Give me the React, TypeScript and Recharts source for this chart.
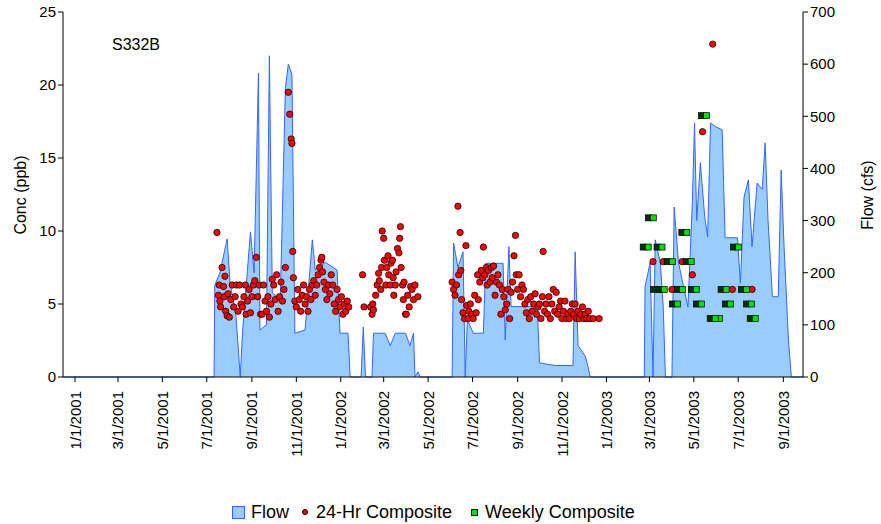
import React from "react";
import { Area, ComposedChart, Scatter, XAxis, YAxis } from "recharts";

// x values are days since 1/1/2001
const flowSeries: [number, number][] = [
  [-16, 0], [191, 0], [192, 176], [199, 200], [209, 265], [213, 180], [221, 120], [227, 0], [230, 84],
  [241, 278], [246, 200], [252, 583], [254, 90], [263, 100], [267, 616], [271, 161], [282, 150],
  [289, 555], [293, 600], [298, 580], [302, 84], [316, 90], [326, 263], [330, 205], [344, 220],
  [360, 205], [364, 84], [375, 84], [378, 0], [393, 0], [396, 96], [399, 0], [408, 0], [410, 84],
  [426, 84], [433, 60], [440, 84], [454, 84], [460, 60], [465, 84], [467, 0], [471, 10], [474, 0],
  [518, 0], [520, 257], [526, 210], [533, 240], [536, 0], [539, 110], [547, 84], [561, 84], [564, 218],
  [588, 218], [591, 71], [596, 250], [599, 135], [635, 135], [638, 27], [660, 22], [684, 22], [687, 240],
  [691, 60], [701, 40], [708, 0], [782, 0], [783, 173], [790, 219], [794, 0], [797, 263], [804, 219],
  [808, 134], [811, 0], [820, 0], [823, 326], [829, 219], [842, 134], [848, 334], [851, 487], [854, 300],
  [859, 411], [865, 307], [869, 269], [873, 487], [880, 480], [889, 474], [893, 267], [910, 267],
  [914, 180], [919, 345], [925, 378], [930, 250], [937, 372], [944, 360], [948, 449], [952, 300],
  [958, 154], [966, 154], [970, 397], [974, 250], [980, 71], [984, 0], [1000, 0],
];

const composite24: [number, number][] = [
  [195, 9.9], [197, 5.6], [198, 6.3], [199, 5.2], [200, 4.8], [202, 7.5], [204, 6.2], [205, 5.5], [206, 6.9],
  [207, 4.5], [209, 4.2], [210, 5.7], [212, 4.1], [214, 5.3], [216, 6.3], [218, 4.8], [220, 5.5], [222, 6.3],
  [224, 4.5], [226, 6.3], [228, 5.0], [230, 4.8], [232, 5.5], [234, 6.3], [235, 4.3], [237, 5.2], [239, 6.0],
  [241, 4.4], [243, 5.5], [245, 6.3], [247, 6.6], [249, 8.2], [251, 5.5], [253, 6.3], [255, 4.3], [257, 4.3],
  [259, 6.3], [261, 5.2], [263, 4.5], [265, 5.5], [267, 4.1], [269, 5.0], [271, 6.7], [273, 6.3], [275, 5.3],
  [277, 7.0], [279, 4.5], [281, 5.5], [283, 6.5], [285, 5.2], [287, 6.0], [289, 7.5], [293, 19.5], [295, 18.0],
  [297, 16.3], [298, 16.0], [299, 8.6], [300, 6.8], [302, 5.2], [304, 4.8], [306, 6.0], [308, 5.3], [310, 4.5],
  [312, 5.6], [314, 6.3], [316, 5.0], [318, 5.5], [320, 4.5], [322, 6.0], [324, 5.3], [326, 6.3], [328, 6.6],
  [330, 5.6], [332, 6.3], [334, 7.0], [336, 7.5], [338, 8.0], [339, 8.2], [340, 7.2], [342, 6.5], [344, 6.0],
  [346, 5.3], [348, 6.3], [350, 5.7], [352, 7.0], [354, 6.3], [356, 5.0], [358, 4.5], [360, 6.0], [362, 5.3],
  [364, 4.8], [366, 5.5], [368, 4.3], [370, 5.0], [372, 4.5], [374, 5.2], [376, 4.8],
  [395, 7.0], [397, 4.8], [406, 4.8], [408, 4.3], [409, 5.0], [410, 4.6], [413, 5.6], [415, 6.3], [417, 7.1],
  [418, 6.6], [420, 6.0], [421, 7.5], [422, 10.0], [424, 9.5], [425, 8.0], [427, 6.3], [428, 7.5], [430, 8.3],
  [431, 7.0], [433, 6.3], [434, 7.8], [436, 8.0], [437, 6.8], [438, 5.6], [440, 6.3], [441, 7.2], [443, 8.8],
  [445, 8.5], [446, 9.5], [447, 10.3], [448, 7.5], [450, 6.3], [451, 5.3], [452, 6.5], [454, 4.3], [455, 4.3],
  [457, 5.6], [459, 4.8], [461, 6.2], [463, 6.0], [465, 5.3], [467, 6.3], [471, 5.5],
  [518, 6.5], [520, 6.0], [522, 5.6], [524, 6.3], [526, 11.7], [527, 7.0], [529, 9.9], [530, 7.3], [531, 5.3],
  [533, 4.4], [535, 4.0], [537, 9.0], [538, 4.9], [540, 4.0], [541, 4.5], [543, 5.0], [545, 4.3], [547, 4.0],
  [549, 5.6], [551, 4.4], [553, 7.0], [554, 5.3], [556, 6.5], [558, 7.3], [560, 6.8], [561, 8.9], [563, 7.0],
  [565, 7.5], [566, 6.3], [568, 7.3], [570, 6.5], [572, 7.5], [573, 6.8], [575, 7.6], [577, 5.6], [579, 6.5],
  [581, 7.0], [583, 6.3], [585, 4.3], [587, 6.0], [589, 5.5], [591, 4.6], [593, 5.0], [595, 6.0], [597, 4.0],
  [599, 5.8], [601, 6.5], [603, 8.3], [605, 9.7], [606, 7.0], [608, 6.0], [610, 7.0], [612, 5.5], [614, 6.3],
  [616, 6.0], [618, 5.0], [620, 4.4], [622, 5.3], [624, 4.0], [626, 5.5], [628, 4.5], [630, 5.0], [632, 5.7],
  [634, 4.3], [636, 4.8], [638, 5.0], [640, 4.0], [642, 5.5], [643, 8.6], [645, 4.5], [647, 5.0], [649, 4.3],
  [651, 5.5], [653, 4.0], [655, 5.0], [657, 6.0], [659, 4.5], [661, 5.8], [663, 4.3], [665, 4.8], [667, 5.2],
  [669, 4.0], [671, 4.5], [673, 5.2], [675, 4.0], [677, 4.3], [679, 4.0], [681, 4.5], [683, 5.0], [685, 4.3],
  [687, 5.0], [689, 4.0], [691, 4.5], [693, 4.0], [695, 4.3], [697, 4.8], [699, 4.0], [701, 4.3], [703, 4.0],
  [705, 4.5], [707, 4.0], [712, 4.0], [720, 4.0],
  [794, 7.9], [808, 7.9], [820, 6.0], [834, 7.9], [848, 7.0], [862, 16.8], [876, 22.8], [903, 6.0], [930, 6.0],
];

const weeklyComposite: [number, number][] = [
  [793, 10.9], [786, 8.9], [805, 8.9], [819, 7.9], [845, 7.9], [800, 6.0], [808, 6.0], [833, 6.0], [852, 6.0],
  [893, 6.0], [921, 6.0], [826, 5.0], [859, 5.0], [899, 5.0], [928, 5.0], [884, 4.0], [878, 4.0], [933, 4.0],
  [866, 17.9], [839, 9.9], [910, 8.9],
];

const dateTicks = [0, 59, 120, 181, 243, 304, 365, 424, 485, 546, 608, 669, 730, 789, 850, 911, 973];
const dateLabels = [
  "1/1/2001", "3/1/2001", "5/1/2001", "7/1/2001", "9/1/2001", "11/1/2001", "1/1/2002", "3/1/2002",
  "5/1/2002", "7/1/2002", "9/1/2002", "11/1/2002", "1/1/2003", "3/1/2003", "5/1/2003", "7/1/2003", "9/1/2003",
];
const concTicks = [0, 5, 10, 15, 20, 25];
const flowTicks = [0, 100, 200, 300, 400, 500, 600, 700];

const flowData = flowSeries.map(([day, flow]) => ({ day, flow }));
const dotData = composite24.map(([day, conc]) => ({ day, conc }));
const weeklyData = weeklyComposite.map(([day, conc]) => ({ day, conc }));

const FONT = "'Liberation Sans', Arial, sans-serif";

const DateTick = (props: any) => {
  const { x, y, payload } = props;
  const idx = dateTicks.indexOf(payload.value);
  return (
    <text x={x} y={y + 7} transform={`rotate(-90, ${x}, ${y + 7})`} textAnchor="end" dominantBaseline="central"
      fontSize={15} fontFamily={FONT} fill="#000">
      {dateLabels[idx]}
    </text>
  );
};

const RedDot = (props: any) => (
  <circle cx={props.cx} cy={props.cy} r={3.2} fill="#ff0000" stroke="#000" strokeWidth={0.7} />
);

const GreenSquare = (props: any) => (
  <g>
    <rect x={props.cx - 7} y={props.cy - 3} width={6} height={6} fill="#003300" stroke="#000" strokeWidth={0.7} />
    <rect x={props.cx - 2} y={props.cy - 3} width={6} height={6} fill="#00dd00" stroke="#000" strokeWidth={0.7} />
  </g>
);

export default function App() {
  return (
    <div style={{ position: "absolute", left: 0, top: 0, width: 881, height: 524, background: "#fff", fontFamily: FONT }}>
      <ComposedChart width={881} height={524} margin={{ top: 12, right: 0, left: 0, bottom: 47 }}>
        <XAxis type="number" dataKey="day" domain={[-16.5, 1000]} ticks={dateTicks} tick={<DateTick />}
          allowDataOverflow stroke="#000" tickSize={5} height={100} interval={0} />
        <YAxis yAxisId="left" domain={[0, 25]} ticks={concTicks} width={63} stroke="#000" tickSize={5}
          tick={{ fontSize: 15, fill: "#000", fontFamily: FONT }} />
        <YAxis yAxisId="right" orientation="right" domain={[0, 700]} ticks={flowTicks} width={78} stroke="#000"
          tickSize={5} tick={{ fontSize: 15, fill: "#000", fontFamily: FONT }} />
        <Area yAxisId="right" data={flowData} dataKey="flow" type="linear" fill="#99ccff" fillOpacity={1}
          stroke="#3366ff" strokeWidth={1} isAnimationActive={false} dot={false} activeDot={false} />
        <Scatter yAxisId="left" data={dotData} dataKey="conc" shape={<RedDot />} isAnimationActive={false} />
        <Scatter yAxisId="left" data={weeklyData} dataKey="conc" shape={<GreenSquare />} isAnimationActive={false} />
      </ComposedChart>
      <div style={{ position: "absolute", left: 21, top: 195, fontSize: 16, transform: "translate(-50%, -50%) rotate(-90deg)", whiteSpace: "nowrap" }}>Conc (ppb)</div>
      <div style={{ position: "absolute", left: 868, top: 195, fontSize: 16, transform: "translate(-50%, -50%) rotate(-90deg)", whiteSpace: "nowrap" }}>Flow (cfs)</div>
      <div style={{ position: "absolute", left: 112, top: 36, fontSize: 16 }}>S332B</div>
      <div style={{ position: "absolute", left: 232, top: 500, height: 24, fontSize: 18, display: "flex", alignItems: "center", whiteSpace: "nowrap" }}>
        <span style={{ display: "inline-block", width: 11, height: 11, background: "#99ccff", border: "1px solid #3366ff", marginRight: 6 }} />
        <span style={{ marginRight: 13 }}>Flow</span>
        <span style={{ display: "inline-block", width: 4, height: 4, borderRadius: 3, background: "#ff0000", border: "1px solid #000", marginRight: 8 }} />
        <span style={{ marginRight: 19 }}>24-Hr Composite</span>
        <span style={{ display: "inline-block", width: 5, height: 5, background: "#00dd00", border: "1px solid #000", marginRight: 7 }} />
        <span>Weekly Composite</span>
      </div>
    </div>
  );
}
